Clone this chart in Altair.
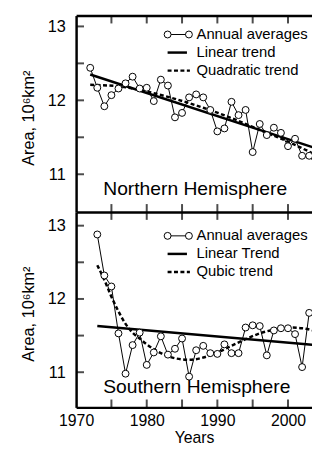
import altair as alt
import pandas as pd

# ---------------- data ----------------
north_years = list(range(1972, 2005))
north_area = [12.44, 12.17, 11.92, 12.07, 12.16, 12.23, 12.32, 12.16, 12.17, 11.99,
              12.28, 12.20, 11.77, 11.83, 12.04, 12.08, 12.04, 11.87, 11.58, 11.62,
              11.98, 11.80, 11.87, 11.30, 11.68, 11.53, 11.63, 11.56, 11.38, 11.48,
              11.25, 11.25, 11.12]
north_lin_years = [1972, 2004]
north_lin = [12.35, 11.35]
north_fit_years = [1972, 1976, 1980, 1984, 1988, 1992, 1996, 2000, 2004]
north_fit = [12.21, 12.19, 12.12, 12.02, 11.90, 11.76, 11.60, 11.44, 11.26]

south_years = list(range(1973, 2004))
south_area = [12.88, 12.32, 12.17, 11.53, 10.98, 11.37, 11.54, 11.10, 11.27, 11.49,
              11.24, 11.32, 11.46, 10.94, 11.30, 11.36, 11.26, 11.25, 11.38, 11.26,
              11.26, 11.61, 11.64, 11.63, 11.23, 11.57, 11.60, 11.60, 11.52, 11.07,
              11.81]
south_lin_years = [1973, 2004]
south_lin = [11.63, 11.37]
south_fit_years = [1973, 1974, 1975, 1976, 1977, 1978, 1979, 1980, 1982, 1984,
                   1986, 1988, 1990, 1992, 1994, 1996, 1998, 2000, 2002, 2004]
south_fit = [12.46, 12.26, 12.03, 11.83, 11.66, 11.54, 11.46, 11.38, 11.26, 11.19,
             11.17, 11.20, 11.27, 11.36, 11.45, 11.53, 11.58, 11.61, 11.60, 11.56]

north_legend = ["Annual averages", "Linear trend", "Quadratic trend"]
south_legend = ["Annual averages", "Linear Trend", "Qubic trend"]
north_name = "Northern Hemisphere"
south_name = "Southern Hemisphere"

x_tick_values = [1975, 1980, 1985, 1990, 1995, 2000]
x_label_values = [1970, 1980, 1990, 2000]
y_tick_values = [11, 11.5, 12, 12.5, 13]
y_label_values = [11, 12, 13]
y_title = "Area, 10\u2076km\u00b2"
x_title = "Years"

# ---------------- styling ----------------
FONT = "Liberation Sans"
W = 239
XDOM = [1970, 2003.4]
TICK_LEN = 8
TICK_W = 2
LINE_W = 2.5
DASH = [4, 2.5]
PT_SIZE = 49


def panel(years, area, lin_years, lin_vals, fit_years, fit_vals, ydom, h,
          labels, name, legend_base, name_base, bottom):
    ann = pd.DataFrame({"year": years, "area": area})
    lin = pd.DataFrame({"year": lin_years, "area": lin_vals})
    fit = pd.DataFrame({"year": fit_years, "area": fit_vals})
    xt = pd.DataFrame({"year": x_tick_values})
    yt = pd.DataFrame({"area": y_tick_values})

    xscale = alt.Scale(domain=XDOM, nice=False, zero=False)
    yscale = alt.Scale(domain=ydom, nice=False, zero=False)

    yaxis = alt.Axis(values=y_label_values, format="d", title=y_title,
                     titleX=-48, titleY=h / 2 + 4, titleBaseline="middle",
                     labelPadding=11, ticks=False, labelFlush=False)
    y_enc = alt.Y("area:Q", scale=yscale, axis=yaxis)

    top_axis = alt.Axis(orient="top", labels=False, ticks=False, title=None)
    if bottom:
        bot_axis = alt.Axis(orient="bottom", values=x_label_values, format="d",
                            title=x_title, labelPadding=5, titlePadding=2,
                            labelFontSize=16, titleFontSize=16,
                            ticks=False, labelFlush=False)
        x_main = alt.X("year:Q", scale=xscale, axis=bot_axis)
        x_top = alt.X("year:Q", scale=xscale, axis=top_axis)
        x_none = alt.X("year:Q", scale=xscale, axis=None)
    else:
        x_main = alt.X("year:Q", scale=xscale, axis=top_axis)
        x_top = x_main
        x_none = x_main

    layers = []
    layers.append(alt.Chart(ann).mark_line(color="black", strokeWidth=1, clip=True)
                  .encode(x=x_main, y=y_enc))
    layers.append(alt.Chart(lin).mark_line(color="black", strokeWidth=LINE_W, clip=True)
                  .encode(x=x_none, y=y_enc))
    layers.append(alt.Chart(fit).mark_line(color="black", strokeWidth=LINE_W,
                                           strokeDash=DASH, interpolate="monotone",
                                           clip=True)
                  .encode(x=x_none, y=y_enc))
    layers.append(alt.Chart(ann).mark_point(shape="circle", filled=True, fill="white",
                                            stroke="black", strokeWidth=1, size=PT_SIZE,
                                            opacity=1, clip=True)
                  .encode(x=x_none, y=y_enc))
    # inward ticks
    layers.append(alt.Chart(xt).mark_tick(orient="vertical", size=TICK_LEN,
                                          thickness=TICK_W, color="black")
                  .encode(x=x_top, y=alt.value(TICK_LEN / 2)))
    layers.append(alt.Chart(xt).mark_tick(orient="vertical", size=TICK_LEN,
                                          thickness=TICK_W, color="black")
                  .encode(x=x_none, y=alt.value(h - TICK_LEN / 2)))
    layers.append(alt.Chart(yt).mark_tick(orient="horizontal", size=TICK_LEN,
                                          thickness=TICK_W, color="black")
                  .encode(y=y_enc, x=alt.value(TICK_LEN / 2)))

    # legend (drawn by hand)
    sx0, sx1, tx = 92.7, 114.3, 122
    for i, lbl in enumerate(labels):
        b = legend_base + i * 18.3
        sy = b - 4.5
        layers.append(alt.Chart(pd.DataFrame({"label": [lbl]}))
                      .mark_text(align="left", baseline="alphabetic", font=FONT,
                                 fontSize=15, color="black")
                      .encode(x=alt.value(tx), y=alt.value(b), text="label:N"))
        if i == 0:
            layers.append(alt.Chart(pd.DataFrame({"label": [lbl]}))
                          .mark_rule(color="black", strokeWidth=1)
                          .encode(x=alt.value(sx0), x2=alt.value(sx1), y=alt.value(sy)))
            for px in (sx0, sx1):
                layers.append(alt.Chart(pd.DataFrame({"label": [lbl]}))
                              .mark_point(shape="circle", filled=True, fill="white",
                                          stroke="black", strokeWidth=1, size=PT_SIZE,
                                          opacity=1)
                              .encode(x=alt.value(px), y=alt.value(sy)))
        elif i == 1:
            layers.append(alt.Chart(pd.DataFrame({"label": [lbl]}))
                          .mark_rule(color="black", strokeWidth=LINE_W)
                          .encode(x=alt.value(sx0), x2=alt.value(sx1 - 2),
                                  y=alt.value(sy)))
        else:
            layers.append(alt.Chart(pd.DataFrame({"label": [lbl]}))
                          .mark_rule(color="black", strokeWidth=LINE_W, strokeDash=DASH)
                          .encode(x=alt.value(sx0), x2=alt.value(sx1 + 1),
                                  y=alt.value(sy)))

    layers.append(alt.Chart(pd.DataFrame({"label": [name]}))
                  .mark_text(align="left", baseline="alphabetic", font=FONT,
                             fontSize=19.5, color="black")
                  .encode(x=alt.value(27.5), y=alt.value(name_base), text="label:N"))

    ch = alt.layer(*layers).properties(width=W, height=h)
    if bottom:
        ch = ch.resolve_axis(x="independent")
    return ch


top = panel(north_years, north_area, north_lin_years, north_lin,
            north_fit_years, north_fit, [10.49, 13.147], 199,
            north_legend, north_name, 23.7, 182, False)
bot = panel(south_years, south_area, south_lin_years, south_lin,
            south_fit_years, south_fit, [10.52, 13.187], 198,
            south_legend, south_name, 28.7, 183, True)

chart = (alt.vconcat(top, bot, spacing=0, bounds="flush")
         .properties(padding={"left": 13, "top": 4.75, "right": 0, "bottom": 0})
         .configure_view(stroke=None)
         .configure_axis(domainColor="black", domainWidth=2.5, grid=False,
                         labelFont=FONT, labelFontSize=16.5, labelColor="black",
                         titleFont=FONT, titleFontSize=16.5, titleColor="black",
                         titleFontWeight="normal"))

chart.save("out.html", embed_options={"renderer": "svg", "actions": False})
